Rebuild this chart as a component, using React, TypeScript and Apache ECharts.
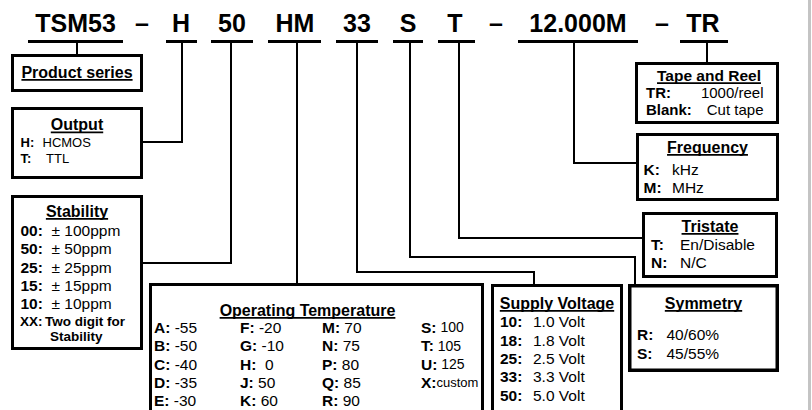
import React, { useEffect, useRef } from 'react';
import * as echarts from 'echarts';

// ---------- data ----------
const partCodes = ['TSM53', '–', 'H', '50', 'HM', '33', 'S', 'T', '–', '12.000M', '–', 'TR'];
const productTitle = 'Product series';
const outputTitle = 'Output';
const outputKeys = ['H:', 'T:'];
const outputValues = ['HCMOS', 'TTL'];
const stabilityTitle = 'Stability';
const stabilityKeys = ['00:', '50:', '25:', '15:', '10:'];
const stabilityValues = ['± 100ppm', '± 50ppm', '± 25ppm', '± 15ppm', '± 10ppm'];
const stabilityCustom = ['XX:', 'Two digit for', 'Stability'];
const tempTitle = 'Operating Temperature';
const tempKeys = ['A:', 'B:', 'C:', 'D:', 'E:', 'F:', 'G:', 'H:', 'J:', 'K:', 'M:', 'N:', 'P:', 'Q:', 'R:', 'S:', 'T:', 'U:', 'X:'];
const tempValues = [' -55', ' -50', ' -40', ' -35', ' -30', ' -20', ' -10', '  0', ' 50', ' 60', ' 70', ' 75', ' 80', ' 85', ' 90', ' 100', ' 105', ' 125', 'custom'];
const voltageTitle = 'Supply Voltage';
const voltageKeys = ['10:', '18:', '25:', '33:', '50:'];
const voltageValues = ['1.0 Volt', '1.8 Volt', '2.5 Volt', '3.3 Volt', '5.0 Volt'];
const symmetryTitle = 'Symmetry';
const symmetryKeys = ['R:', 'S:'];
const symmetryValues = ['40/60%', '45/55%'];
const tristateTitle = 'Tristate';
const tristateKeys = ['T:', 'N:'];
const tristateValues = ['En/Disable', 'N/C'];
const frequencyTitle = 'Frequency';
const frequencyKeys = ['K:', 'M:'];
const frequencyValues = ['kHz', 'MHz'];
const tapeTitle = 'Tape and Reel';
const tapeKeys = ['TR:', 'Blank:'];
const tapeValues = ['1000/reel', 'Cut tape'];

const FONT = '"Liberation Sans", Arial, Helvetica, sans-serif';

function measure(text: string, size: number, bold: boolean): number {
  const c = document.createElement('canvas').getContext('2d');
  if (!c) return text.length * size * 0.55;
  c.font = `${bold ? 'bold ' : ''}${size}px ${FONT}`;
  return c.measureText(text).width;
}

function txt(x: number, y: number, text: string, size: number, bold: boolean, align = 'left', rich?: any) {
  return {
    type: 'text',
    x,
    y,
    z: 10,
    style: {
      text,
      fill: '#000',
      fontSize: size,
      fontFamily: FONT,
      fontWeight: bold ? 'bold' : 'normal',
      align,
      textAlign: align,
      verticalAlign: 'middle',
      textVerticalAlign: 'middle',
      rich,
    },
  };
}

function kv(x: number, y: number, k: string, v: string, size: number, vSize = size) {
  return txt(x, y, `{k|${k}}{v|${v}}`, size, false, 'left', {
    k: { fontWeight: 'bold', fontSize: size, fontFamily: FONT, fill: '#000' },
    v: { fontWeight: 'normal', fontSize: vSize, fontFamily: FONT, fill: '#000' },
  });
}

function title(cx: number, y: number, text: string, size = 16) {
  const w = measure(text, size, true);
  return [
    txt(cx, y, text, size, true, 'center'),
    {
      type: 'rect',
      z: 10,
      shape: { x: cx - w / 2, y: y + size * 0.44, width: w, height: 1.6 },
      style: { fill: '#000' },
    },
  ];
}

function box(x1: number, y1: number, x2: number, y2: number, lw = 3) {
  return {
    type: 'rect',
    z: 5,
    shape: { x: x1 + lw / 2, y: y1 + lw / 2, width: x2 - x1 - lw, height: y2 - y1 - lw },
    style: { fill: '#fff', stroke: '#000', lineWidth: lw },
  };
}

function conn(points: number[][]) {
  return {
    type: 'polyline',
    z: 1,
    shape: { points },
    style: { stroke: '#000', lineWidth: 2, fill: null },
  };
}

export default function App() {
  const ref = useRef<HTMLDivElement>(null);
  useEffect(() => {
    if (!ref.current) return;
    const chart = echarts.init(ref.current, undefined, { renderer: 'svg' });
    const els: any[] = [];

    // code header
    const codeX = [75.5, 142, 181, 232, 295, 357, 408, 455, 496, 578, 662, 703];
    const underlines = [[28, 123], null, [166, 197], [211, 253], [268, 321], [336, 378], [393, 423], [438, 475], null, [518, 638], null, [680, 728]];
    partCodes.forEach((c, i) => {
      els.push(txt(codeX[i], 23, c, 25, true, 'center'));
      const u = underlines[i];
      if (u) els.push({ type: 'rect', z: 10, shape: { x: u[0], y: 40, width: u[1] - u[0], height: 3 }, style: { fill: '#000' } });
    });

    // connectors
    els.push(conn([[77, 43], [77, 54]]));
    els.push(conn([[182, 43], [182, 142], [143, 142]]));
    els.push(conn([[231, 43], [231, 263], [143, 263]]));
    els.push(conn([[297, 43], [297, 284]]));
    els.push(conn([[357, 43], [357, 272], [534, 272], [534, 285]]));
    els.push(conn([[410, 43], [410, 257], [635, 257], [635, 285]]));
    els.push(conn([[459, 43], [459, 238], [642, 238]]));
    els.push(conn([[574, 43], [574, 163], [636, 163]]));
    els.push(conn([[707, 43], [707, 63]]));

    // Product series
    els.push(box(11, 54, 143, 92));
    els.push(...title(77, 72, productTitle, 16));

    // Output
    els.push(box(11, 107, 143, 179));
    els.push(...title(77, 124.5, outputTitle, 16));
    const outY = [142, 158];
    const outVX = [42.5, 46];
    outputKeys.forEach((k, i) => {
      els.push(txt(20.5, outY[i], k, 13, true));
      els.push(txt(outVX[i], outY[i], outputValues[i], 13, false));
    });

    // Stability
    els.push(box(11, 195, 143, 350));
    els.push(...title(77, 211, stabilityTitle, 16));
    const stY = [230, 248.5, 267, 285.5, 303.5];
    stabilityKeys.forEach((k, i) => {
      els.push(txt(20.5, stY[i], k, 15.5, true));
      els.push(txt(51.5, stY[i], stabilityValues[i], 15.5, false));
    });
    els.push(txt(20, 321.5, stabilityCustom[0], 13.5, true));
    els.push(txt(45, 321.5, stabilityCustom[1], 13.5, true));
    els.push(txt(50, 336.5, stabilityCustom[2], 13.5, true));

    // Operating Temperature
    els.push(box(149, 283, 484, 418));
    els.push(...title(307.5, 310, tempTitle, 16));
    const colX = [154, 240, 322, 421];
    const rowY = [327, 345.5, 364, 382, 400];
    tempKeys.forEach((k, i) => {
      const col = Math.floor(i / 5);
      const vSize = col === 3 ? (tempValues[i].trim() === tempValues[i] ? 13 : 14) : 15.5;
      els.push(kv(colX[col], rowY[i % 5], k, tempValues[i], 15.5, vSize));
    });

    // Supply Voltage
    els.push(box(491, 284, 623, 418));
    els.push(...title(557, 303, voltageTitle, 16));
    const vY = [321.5, 340, 358.5, 376.5, 395];
    voltageKeys.forEach((k, i) => {
      els.push(txt(500, vY[i], k, 15.5, true));
      els.push(txt(533, vY[i], voltageValues[i], 15.5, false));
    });

    // Symmetry
    els.push(box(628, 284, 779, 372, 3.5));
    els.push(...title(703.5, 303, symmetryTitle, 16));
    const syY = [334, 353];
    symmetryKeys.forEach((k, i) => {
      els.push(txt(637, syY[i], k, 15.5, true));
      els.push(txt(666.5, syY[i], symmetryValues[i], 15.5, false));
    });

    // Tristate
    els.push(box(642, 212, 778, 278));
    els.push(...title(710, 226, tristateTitle, 16));
    const trY = [244, 262.5];
    tristateKeys.forEach((k, i) => {
      els.push(txt(651, trY[i], k, 15.5, true));
      els.push(txt(680, trY[i], tristateValues[i], 15.5, false));
    });

    // Frequency
    els.push(box(636, 133, 779, 201));
    els.push(...title(707.5, 147, frequencyTitle, 16));
    const fY = [169, 187];
    frequencyKeys.forEach((k, i) => {
      els.push(txt(643.5, fY[i], k, 15.5, true));
      els.push(txt(672, fY[i], frequencyValues[i], 15.5, false));
    });

    // Tape and Reel
    els.push(box(635, 62, 779, 124));
    els.push(...title(709, 75.5, tapeTitle, 15.5));
    const tY = [92.5, 109];
    tapeKeys.forEach((k, i) => {
      els.push(txt(646, tY[i], k, 15, true));
      els.push(txt(763.5, tY[i], tapeValues[i], 15, false, 'right'));
    });

    // right gray edge
    els.push({ type: 'rect', z: 20, shape: { x: 808, y: 0, width: 3, height: 410 }, style: { fill: '#c4c4c4' } });

    chart.setOption({
      animation: false,
      backgroundColor: '#ffffff',
      graphic: { elements: els },
    });
    return () => chart.dispose();
  }, []);
  return <div ref={ref} style={{ position: 'fixed', left: 0, top: 0, width: 812, height: 410 }} />;
}
